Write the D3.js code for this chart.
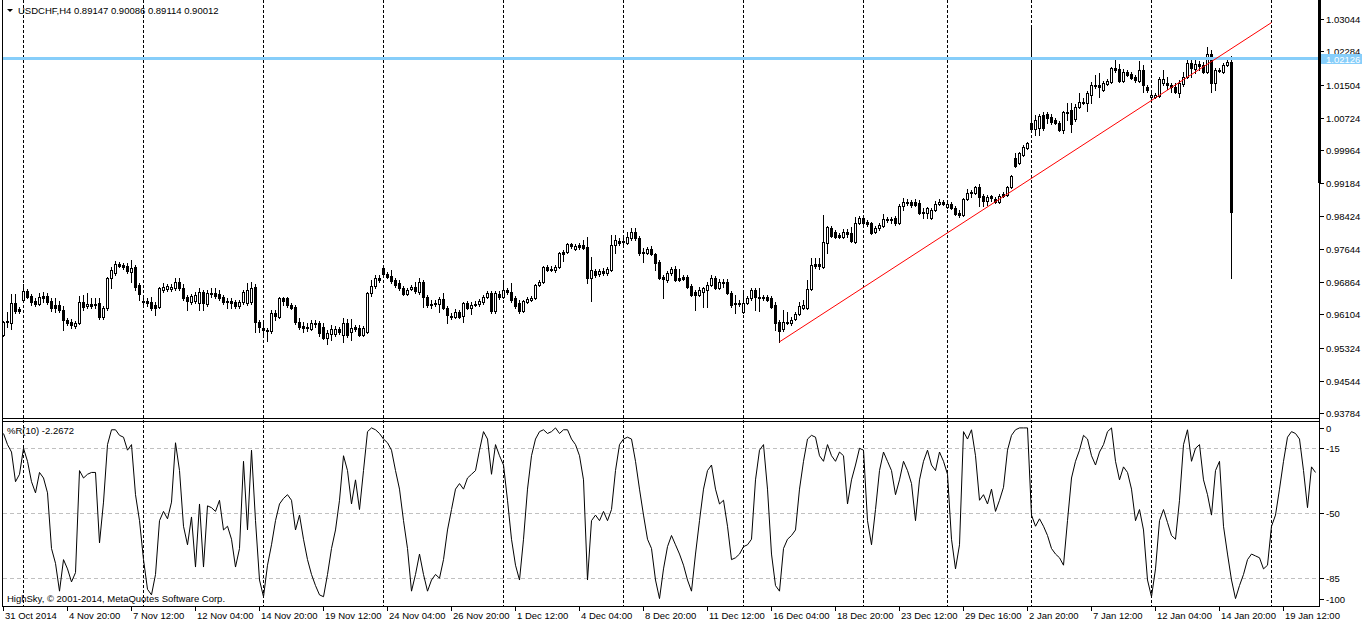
<!DOCTYPE html>
<html><head><meta charset="utf-8">
<script src="https://cdn.jsdelivr.net/npm/d3@7"></script>
<style>
body{margin:0;background:#fff;}
svg{display:block;}
text{font-family:"Liberation Sans",Arial,sans-serif;font-size:9.5px;fill:#000;}
</style>
</head><body>
<svg id="c" width="1362" height="624"></svg>
<script>
const header = "USDCHF,H4  0.89147 0.90086 0.89114 0.90012";
const indicatorTitle = "%R(10) -2.2672";
const copyright = "HighSky, \u00a9 2001-2014, MetaQuotes Software Corp.";

const open = [
.9562,.9593,.9590,.9637,.9623,.9644,.9665,.9654,.9642,.9635,
.9654,.9654,.9642,.9633,.9633,.9621,.9597,.9593,.9583,.9590,
.9640,.9630,.9635,.9635,.9637,.9604,.9626,.9696,.9708,.9729,
.9727,.9724,.9710,.9722,.9680,.9642,.9642,.9640,.9633,.9628,
.9668,.9670,.9670,.9672,.9687,.9672,.9651,.9640,.9642,.9637,
.9663,.9635,.9661,.9661,.9658,.9651,.9642,.9642,.9640,.9630,
.9640,.9637,.9640,.9675,.9593,.9579,.9574,.9571,.9614,.9604,
.9649,.9649,.9633,.9628,.9593,.9583,.9579,.9576,.9590,.9590,
.9581,.9555,.9564,.9564,.9576,.9562,.9590,.9569,.9581,.9579,
.9562,.9569,.9661,.9677,.9696,.9719,.9705,.9701,.9691,.9684,
.9672,.9658,.9670,.9675,.9663,.9687,.9651,.9635,.9635,.9635,
.9647,.9626,.9607,.9604,.9616,.9607,.9637,.9626,.9633,.9635,
.9640,.9651,.9661,.9618,.9658,.9651,.9668,.9663,.9649,.9637,
.9618,.9640,.9644,.9649,.9680,.9687,.9722,.9717,.9715,.9722,
.9757,.9757,.9776,.9764,.9773,.9773,.9769,.9696,.9712,.9705,
.9712,.9708,.9715,.9773,.9783,.9780,.9778,.9790,.9804,.9790,
.9757,.9755,.9764,.9752,.9734,.9698,.9691,.9708,.9717,.9696,
.9698,.9698,.9677,.9663,.9656,.9663,.9668,.9680,.9696,.9672,
.9687,.9687,.9661,.9637,.9637,.9616,.9637,.9649,.9668,.9651,
.9651,.9651,.9649,.9633,.9593,.9576,.9593,.9590,.9600,.9611,
.9626,.9626,.9670,.9729,.9729,.9722,.9778,.9813,.9804,.9797,
.9792,.9804,.9802,.9780,.9825,.9837,.9828,.9825,.9804,.9813,
.9818,.9835,.9832,.9837,.9825,.9865,.9874,.9874,.9874,.9872,
.9851,.9849,.9837,.9856,.9870,.9874,.9863,.9870,.9860,.9849,
.9844,.9882,.9898,.9896,.9910,.9889,.9877,.9889,.9882,.9874,
.9893,.9891,.9910,.9978,.9966,.9985,1.0001,1.0060,1.0046,1.0048,
1.0079,1.0081,1.0074,1.0067,1.0060,1.0044,1.0084,1.0091,1.0069,1.0098,
1.0109,1.0107,1.0126,1.0149,1.0149,1.0138,1.0152,1.0156,1.0189,1.0187,
1.0159,1.0180,1.0175,1.0168,1.0159,1.0185,1.0145,1.0121,1.0121,1.0123,
1.0154,1.0154,1.0149,1.0145,1.0131,1.0152,1.0168,1.0201,1.0187,1.0199,
1.0196,1.0180,1.0222,1.0154,1.0182,1.0180,1.0196,1.0203];

const high = [
.9595,.9616,.9658,.9658,.9628,.9682,.9670,.9658,.9649,.9661,
.9663,.9661,.9649,.9649,.9642,.9630,.9602,.9600,.9595,.9654,
.9656,.9661,.9649,.9649,.9649,.9630,.9698,.9722,.9736,.9734,
.9731,.9731,.9738,.9727,.9684,.9649,.9649,.9651,.9640,.9675,
.9684,.9682,.9682,.9696,.9696,.9682,.9656,.9658,.9663,.9672,
.9668,.9668,.9672,.9672,.9668,.9656,.9649,.9649,.9644,.9644,
.9668,.9684,.9687,.9682,.9597,.9597,.9579,.9621,.9621,.9651,
.9651,.9651,.9637,.9633,.9602,.9593,.9590,.9597,.9597,.9595,
.9590,.9574,.9585,.9583,.9581,.9602,.9600,.9600,.9585,.9585,
.9583,.9663,.9691,.9703,.9703,.9724,.9710,.9715,.9696,.9691,
.9677,.9672,.9680,.9687,.9696,.9691,.9656,.9644,.9644,.9651,
.9661,.9630,.9614,.9623,.9621,.9640,.9642,.9640,.9642,.9647,
.9656,.9665,.9665,.9665,.9665,.9684,.9672,.9684,.9654,.9644,
.9644,.9651,.9654,.9682,.9691,.9724,.9727,.9724,.9727,.9757,
.9762,.9778,.9778,.9776,.9778,.9785,.9792,.9745,.9717,.9717,
.9719,.9722,.9797,.9797,.9790,.9792,.9804,.9813,.9813,.9795,
.9766,.9769,.9771,.9755,.9738,.9703,.9712,.9722,.9724,.9717,
.9703,.9703,.9682,.9668,.9675,.9675,.9687,.9703,.9701,.9694,
.9694,.9694,.9665,.9656,.9644,.9661,.9654,.9672,.9672,.9672,
.9656,.9656,.9654,.9640,.9597,.9621,.9616,.9604,.9616,.9640,
.9644,.9691,.9743,.9743,.9743,.9844,.9818,.9818,.9809,.9802,
.9811,.9811,.9816,.9839,.9842,.9842,.9832,.9828,.9818,.9825,
.9846,.9839,.9839,.9842,.9870,.9884,.9882,.9879,.9882,.9879,
.9860,.9863,.9860,.9877,.9882,.9879,.9874,.9874,.9865,.9856,
.9884,.9905,.9903,.9912,.9917,.9893,.9891,.9891,.9886,.9893,
.9898,.9912,.9938,.9990,.9992,1.0008,1.0015,1.0290,1.0079,1.0081,
1.0086,1.0086,1.0081,1.0072,1.0065,1.0088,1.0107,1.0107,1.0105,1.0131,
1.0119,1.0135,1.0156,1.0173,1.0178,1.0159,1.0163,1.0192,1.0215,1.0199,
1.0187,1.0185,1.0180,1.0173,1.0206,1.0196,1.0149,1.0133,1.0131,1.0168,
1.0185,1.0168,1.0154,1.0154,1.0161,1.0180,1.0208,1.0213,1.0208,1.0206,
1.0203,1.0239,1.0232,1.0189,1.0189,1.0201,1.0208,1.0217];

const low = [
.9560,.9581,.9576,.9614,.9614,.9642,.9649,.9633,.9630,.9633,
.9640,.9635,.9618,.9616,.9616,.9574,.9585,.9579,.9579,.9588,
.9621,.9626,.9626,.9626,.9600,.9600,.9621,.9672,.9703,.9722,
.9717,.9708,.9687,.9668,.9644,.9633,.9630,.9621,.9609,.9626,
.9663,.9665,.9665,.9668,.9668,.9644,.9621,.9635,.9637,.9621,
.9621,.9630,.9651,.9649,.9644,.9635,.9626,.9626,.9626,.9626,
.9635,.9633,.9635,.9569,.9569,.9564,.9548,.9567,.9597,.9602,
.9633,.9628,.9623,.9588,.9576,.9569,.9571,.9574,.9581,.9560,
.9553,.9541,.9550,.9560,.9564,.9546,.9557,.9550,.9571,.9560,
.9560,.9567,.9654,.9672,.9687,.9701,.9696,.9684,.9675,.9668,
.9656,.9656,.9668,.9661,.9658,.9628,.9628,.9626,.9630,.9616,
.9623,.9590,.9600,.9602,.9602,.9593,.9623,.9611,.9630,.9630,
.9635,.9649,.9614,.9614,.9647,.9649,.9658,.9640,.9626,.9614,
.9616,.9637,.9642,.9647,.9677,.9684,.9712,.9712,.9710,.9719,
.9736,.9755,.9766,.9762,.9764,.9764,.9684,.9642,.9698,.9701,
.9703,.9703,.9712,.9755,.9773,.9773,.9776,.9785,.9785,.9750,
.9734,.9752,.9750,.9715,.9694,.9649,.9687,.9703,.9689,.9689,
.9691,.9672,.9654,.9621,.9654,.9628,.9628,.9677,.9670,.9670,
.9675,.9658,.9628,.9614,.9630,.9614,.9635,.9644,.9621,.9618,
.9644,.9642,.9626,.9574,.9546,.9571,.9588,.9585,.9597,.9609,
.9623,.9623,.9668,.9719,.9717,.9719,.9755,.9792,.9790,.9790,
.9790,.9792,.9780,.9778,.9823,.9823,.9818,.9799,.9802,.9809,
.9816,.9828,.9825,.9820,.9823,.9856,.9867,.9863,.9865,.9846,
.9837,.9837,.9835,.9853,.9867,.9867,.9860,.9858,.9844,.9839,
.9842,.9879,.9886,.9893,.9865,.9865,.9867,.9877,.9872,.9872,
.9886,.9889,.9907,.9957,.9964,.9983,.9999,1.0044,1.0032,1.0032,
1.0044,1.0060,1.0058,1.0058,1.0041,1.0037,1.0067,1.0039,1.0065,1.0095,
1.0105,1.0088,1.0107,1.0142,1.0121,1.0135,1.0149,1.0154,1.0180,1.0156,
1.0156,1.0170,1.0163,1.0156,1.0156,1.0133,1.0133,1.0114,1.0119,1.0121,
1.0149,1.0140,1.0133,1.0131,1.0121,1.0147,1.0166,1.0168,1.0178,1.0185,
1.0178,1.0178,1.0133,1.0138,1.0180,1.0178,1.0194,0.9696];

const close = [
.9593,.9595,.9637,.9618,.9618,.9665,.9651,.9640,.9635,.9651,
.9649,.9640,.9626,.9626,.9621,.9597,.9590,.9585,.9590,.9640,
.9628,.9635,.9630,.9633,.9604,.9626,.9696,.9715,.9729,.9724,
.9722,.9712,.9719,.9675,.9658,.9640,.9637,.9626,.9626,.9672,
.9675,.9677,.9675,.9687,.9672,.9649,.9642,.9654,.9656,.9663,
.9637,.9661,.9658,.9654,.9649,.9640,.9640,.9637,.9630,.9640,
.9663,.9668,.9672,.9593,.9581,.9574,.9571,.9614,.9607,.9649,
.9642,.9633,.9626,.9593,.9581,.9579,.9581,.9590,.9588,.9567,
.9555,.9567,.9576,.9576,.9569,.9590,.9562,.9579,.9576,.9562,
.9579,.9661,.9677,.9696,.9691,.9705,.9698,.9689,.9680,.9672,
.9658,.9668,.9675,.9665,.9687,.9651,.9633,.9633,.9637,.9647,
.9626,.9609,.9604,.9616,.9604,.9637,.9626,.9633,.9635,.9642,
.9651,.9661,.9618,.9661,.9651,.9668,.9663,.9644,.9630,.9618,
.9642,.9647,.9649,.9680,.9687,.9722,.9715,.9715,.9722,.9755,
.9752,.9776,.9771,.9771,.9769,.9766,.9696,.9715,.9703,.9712,
.9708,.9717,.9773,.9785,.9778,.9783,.9792,.9804,.9790,.9755,
.9755,.9764,.9752,.9731,.9696,.9694,.9708,.9717,.9691,.9691,
.9694,.9675,.9656,.9656,.9668,.9672,.9680,.9696,.9672,.9687,
.9684,.9661,.9633,.9635,.9635,.9637,.9649,.9668,.9651,.9649,
.9649,.9644,.9628,.9590,.9571,.9593,.9590,.9597,.9611,.9630,
.9633,.9670,.9727,.9724,.9724,.9780,.9816,.9795,.9792,.9792,
.9804,.9799,.9783,.9825,.9837,.9825,.9823,.9802,.9813,.9820,
.9835,.9832,.9835,.9825,.9865,.9874,.9872,.9867,.9867,.9849,
.9849,.9860,.9856,.9870,.9874,.9870,.9870,.9860,.9846,.9844,
.9882,.9896,.9896,.9910,.9886,.9877,.9886,.9884,.9874,.9889,
.9889,.9910,.9936,.9959,.9990,1.0004,1.0013,1.0046,1.0067,1.0076,
1.0048,1.0072,1.0062,1.0060,1.0044,1.0086,1.0086,1.0058,1.0098,1.0109,
1.0107,1.0131,1.0149,1.0147,1.0145,1.0154,1.0159,1.0189,1.0185,1.0159,
1.0180,1.0173,1.0166,1.0161,1.0185,1.0149,1.0138,1.0126,1.0126,1.0163,
1.0163,1.0149,1.0145,1.0133,1.0154,1.0168,1.0201,1.0189,1.0199,1.0194,
1.0180,1.0222,1.0154,1.0185,1.0185,1.0196,1.0203,0.9851];

const wpr = [
-7,-13,-17,-33,-29,-15,-22,-33,-39,-28,
-31,-39,-69,-77,-92,-75,-80,-87,-82,-27,
-31,-29,-28,-28,-66,-44,-13,-5,-5,-8,
-9,-16,-13,-40,-54,-75,-91,-94,-83,-54,
-49,-53,-44,-12,-27,-57,-67,-52,-79,-45,
-79,-46,-47,-49,-43,-59,-57,-64,-79,-69,
-22,-59,-16,-54,-86,-95,-78,-67,-54,-45,
-42,-40,-43,-59,-51,-64,-75,-83,-89,-94,
-95,-83,-69,-59,-43,-19,-27,-45,-32,-48,
-27,-6,-4,-5,-7,-10,-12,-16,-27,-37,
-54,-69,-92,-83,-72,-83,-92,-86,-83,-85,
-75,-59,-48,-37,-34,-37,-31,-29,-27,-16,
-6,-10,-29,-13,-19,-24,-43,-64,-78,-86,
-64,-37,-19,-10,-6,-5,-7,-6,-4,-7,
-5,-5,-10,-13,-19,-32,-86,-54,-51,-54,
-49,-54,-48,-27,-13,-10,-9,-10,-22,-37,
-51,-64,-69,-86,-96,-80,-68,-62,-67,-72,
-78,-86,-92,-72,-54,-37,-27,-24,-37,-45,
-43,-57,-75,-74,-72,-68,-67,-64,-32,-16,
-13,-37,-72,-89,-92,-69,-64,-62,-59,-37,
-22,-10,-8,-9,-19,-22,-13,-19,-22,-17,
-19,-45,-32,-24,-15,-16,-54,-67,-48,-27,
-17,-22,-27,-40,-32,-22,-27,-34,-54,-32,
-22,-16,-24,-27,-17,-22,-29,-64,-80,-67,
-6,-10,-5,-19,-43,-40,-45,-37,-49,-43,
-36,-16,-8,-5,-4,-4,-4,-51,-57,-53,
-57,-62,-69,-72,-74,-78,-54,-31,-22,-16,
-8,-10,-19,-24,-17,-13,-6,-4,-22,-32,
-25,-28,-37,-54,-48,-59,-86,-95,-80,-54,
-48,-55,-62,-64,-43,-13,-5,-22,-15,-13,
-32,-40,-51,-27,-22,-57,-72,-86,-96,-89,
-83,-75,-72,-73,-74,-80,-78,-57,-51,-37,
-22,-9,-6,-7,-10,-27,-47,-25,-28];

const priceTicks = [1.03044,1.02284,1.01504,1.00724,0.99964,0.99184,0.98424,0.97644,0.96864,0.96104,0.95324,0.94544,0.93784];
const wprTicks = [0,-15,-50,-85,-100];
const wprLevels = [-15,-50,-85];
const timeLabels = ["31 Oct 2014","4 Nov 20:00","7 Nov 12:00","12 Nov 04:00","14 Nov 20:00","19 Nov 12:00","24 Nov 04:00","26 Nov 20:00","1 Dec 12:00","4 Dec 04:00","8 Dec 20:00","11 Dec 12:00","16 Dec 04:00","18 Dec 20:00","23 Dec 12:00","29 Dec 16:00","2 Jan 20:00","7 Jan 12:00","12 Jan 04:00","14 Jan 20:00","19 Jan 12:00"];
const labelEvery = 16;
const weekStarts = [5,35,65,95,125,155,185,215,236,257,287,317];
const bidPrice = 1.02126;
const trendBars = [194, 317];
const trendPrices = [0.9546, 1.0296];

// ---- drawing ----
const svg = d3.select('#c');
const x = d3.scaleLinear().domain([0, 1]).range([3, 7]);          // pixel column of bar
const yP = d3.scaleLinear().domain([0.93784, 1.03044]).range([413.2, 19]);
const yR = d3.scaleLinear().domain([-100, 0]).range([606, 420.5]);

const defs = svg.append('defs');
defs.append('clipPath').attr('id','cm').append('rect').attr('x',3).attr('y',0).attr('width',1316).attr('height',418);
defs.append('clipPath').attr('id','ci').append('rect').attr('x',3).attr('y',422).attr('width',1316).attr('height',184);

// period separators
const gs = svg.append('g').attr('shape-rendering','crispEdges');
weekStarts.forEach(i => {
  gs.append('line').attr('x1',x(i)+0.5).attr('x2',x(i)+0.5).attr('y1',0).attr('y2',606)
    .attr('stroke','#000').attr('stroke-dasharray','3,2');
});

// candles
const gc = svg.append('g').attr('clip-path','url(#cm)').attr('shape-rendering','crispEdges');
open.forEach((o, i) => {
  const c = x(i);
  const yo = Math.round(yP(o)), yc = Math.round(yP(close[i]));
  const yh = Math.round(yP(high[i])), yl = Math.round(yP(low[i]));
  gc.append('line').attr('x1',c+0.5).attr('x2',c+0.5).attr('y1',yh).attr('y2',yl+1).attr('stroke','#000');
  const top = Math.min(yo,yc), bot = Math.max(yo,yc);
  if (bot - top < 1) {
    gc.append('rect').attr('x',c-1).attr('y',top).attr('width',3).attr('height',1).attr('fill','#000');
  } else {
    gc.append('rect').attr('x',c-0.5).attr('y',top+0.5).attr('width',2).attr('height',bot-top)
      .attr('fill', close[i] >= o ? '#fff' : '#000').attr('stroke','#000');
  }
});

// bid line + trend line
const go = svg.append('g').attr('clip-path','url(#cm)');
const yb = Math.round(yP(bidPrice));
go.append('line').attr('x1',3).attr('x2',1319).attr('y1',yb+0.5).attr('y2',yb+0.5)
  .attr('stroke','#87cefa').attr('stroke-width',3).attr('shape-rendering','crispEdges');
go.append('line')
  .attr('x1',x(trendBars[0])+0.5).attr('y1',yP(trendPrices[0]))
  .attr('x2',x(trendBars[1])+0.5).attr('y2',yP(trendPrices[1]))
  .attr('stroke','#ff0000').attr('stroke-width',1);

// indicator
const gi = svg.append('g');
wprLevels.forEach(v => {
  const yy = Math.round(yR(v))+0.5;
  gi.append('line').attr('x1',3).attr('x2',1319).attr('y1',yy).attr('y2',yy)
    .attr('stroke','#c0c0c0').attr('stroke-dasharray','4,3').attr('shape-rendering','crispEdges');
});
gi.append('path').attr('clip-path','url(#ci)')
  .datum(wpr)
  .attr('d', d3.line().x((d,i)=>x(i)+0.5).y(d=>yR(d)))
  .attr('fill','none').attr('stroke','#000').attr('stroke-width',1);

// frames
const gf = svg.append('g').attr('shape-rendering','crispEdges').attr('stroke','#000');
gf.append('line').attr('x1',2.5).attr('x2',2.5).attr('y1',0).attr('y2',607);
gf.append('line').attr('x1',2).attr('x2',1320).attr('y1',418.5).attr('y2',418.5);
gf.append('line').attr('x1',2).attr('x2',1320).attr('y1',421.5).attr('y2',421.5);
gf.append('line').attr('x1',2).attr('x2',1320).attr('y1',606.5).attr('y2',606.5);
gf.append('line').attr('x1',1319.5).attr('x2',1319.5).attr('y1',0).attr('y2',607);
svg.append('rect').attr('x',1318).attr('y',0).attr('width',3).attr('height',183).attr('fill','#000');

// price axis
const ga = svg.append('g');
priceTicks.forEach(v => {
  const yy = Math.round(yP(v));
  ga.append('line').attr('x1',1320).attr('x2',1324).attr('y1',yy+0.5).attr('y2',yy+0.5)
    .attr('stroke','#000').attr('shape-rendering','crispEdges');
  ga.append('text').attr('x',1326).attr('y',yy+4).text(v.toFixed(5));
});
ga.append('rect').attr('x',1321).attr('y',yb-4).attr('width',41).attr('height',10).attr('fill','#87cefa');
ga.append('text').attr('x',1326).attr('y',yb+4.5).style('fill','#fff').text(bidPrice.toFixed(5));

// indicator axis
wprTicks.forEach(v => {
  const yy = Math.max(428, Math.min(599, Math.round(yR(v))));
  ga.append('line').attr('x1',1320).attr('x2',1324).attr('y1',yy+0.5).attr('y2',yy+0.5)
    .attr('stroke','#000').attr('shape-rendering','crispEdges');
  ga.append('text').attr('x',1326).attr('y',yy+4).text(String(v));
});

// time axis
timeLabels.forEach((t,k) => {
  const xx = x(k*labelEvery);
  ga.append('line').attr('x1',xx+0.5).attr('x2',xx+0.5).attr('y1',607).attr('y2',611)
    .attr('stroke','#000').attr('shape-rendering','crispEdges');
  ga.append('text').attr('x',xx+2).attr('y',619).text(t);
});

// texts
svg.append('path').attr('d','M7,9 L13,9 L10,12 Z').attr('fill','#000');
svg.append('text').attr('x',18).attr('y',14).text(header);
svg.append('text').attr('x',7).attr('y',434).text(indicatorTitle);
svg.append('text').attr('x',7).attr('y',602).text(copyright);
</script>
</body></html>
